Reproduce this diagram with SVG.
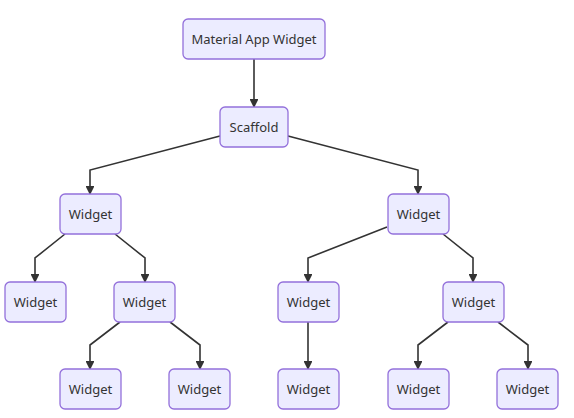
<svg xmlns="http://www.w3.org/2000/svg" width="574" height="418" viewBox="0 0 574 418">
<defs>
<marker id="arr" viewBox="0 0 10 10" refX="9" refY="5" markerWidth="5.5" markerHeight="5.5" orient="auto" markerUnits="strokeWidth">
<path d="M0,0 L10,5 L0,10 z" fill="#333333"/>
</marker>
</defs>
<style>
.n rect{fill:#ECECFF;stroke:#9370DB;stroke-width:1.3}
.n text{font-family:"Noto Sans","DejaVu Sans",sans-serif;font-size:13px;fill:#333333;text-anchor:middle;dominant-baseline:central}
.e polyline{fill:none;stroke:#333333;stroke-width:1.6;marker-end:url(#arr)}
</style>
<rect width="574" height="418" fill="#ffffff"/>
<g class="e" id="connectors">
<polyline points="254,59 254,107"/>
<polyline points="220,136 90,170 90,194"/>
<polyline points="288,136 418,170 418,194"/>
<polyline points="65,234 35,258 35,282"/>
<polyline points="115,234 145,258 145,282"/>
<polyline points="120,322 90,345 90,369"/>
<polyline points="170,322 200,345 200,369"/>
<polyline points="387,227 308,258 308,282"/>
<polyline points="443,234 473,258 473,282"/>
<polyline points="308,322 308,369"/>
<polyline points="448,322 418,345 418,369"/>
<polyline points="498,322 528,345 528,369"/>
</g>
<g class="n" id="material"><rect x="183" y="19" width="142" height="40" rx="5"/><text x="254" y="39">Material App Widget</text></g>
<g class="n" id="scaffold"><rect x="220" y="107" width="68" height="40" rx="5"/><text x="254" y="127">Scaffold</text></g>
<g class="n" id="w1"><rect x="60" y="194" width="61" height="40" rx="5"/><text x="90.5" y="214">Widget</text></g>
<g class="n" id="w2"><rect x="388" y="194" width="61" height="40" rx="5"/><text x="418.5" y="214">Widget</text></g>
<g class="n" id="w3"><rect x="5" y="282" width="61" height="40" rx="5"/><text x="35.5" y="302">Widget</text></g>
<g class="n" id="w4"><rect x="114" y="282" width="61" height="40" rx="5"/><text x="144.5" y="302">Widget</text></g>
<g class="n" id="w5"><rect x="278" y="282" width="61" height="40" rx="5"/><text x="308.5" y="302">Widget</text></g>
<g class="n" id="w6"><rect x="443" y="282" width="61" height="40" rx="5"/><text x="473.5" y="302">Widget</text></g>
<g class="n" id="w7"><rect x="60" y="369" width="61" height="40" rx="5"/><text x="90.5" y="389">Widget</text></g>
<g class="n" id="w8"><rect x="169" y="369" width="61" height="40" rx="5"/><text x="199.5" y="389">Widget</text></g>
<g class="n" id="w9"><rect x="278" y="369" width="61" height="40" rx="5"/><text x="308.5" y="389">Widget</text></g>
<g class="n" id="w10"><rect x="388" y="369" width="61" height="40" rx="5"/><text x="418.5" y="389">Widget</text></g>
<g class="n" id="w11"><rect x="497" y="369" width="61" height="40" rx="5"/><text x="527.5" y="389">Widget</text></g>
</svg>
